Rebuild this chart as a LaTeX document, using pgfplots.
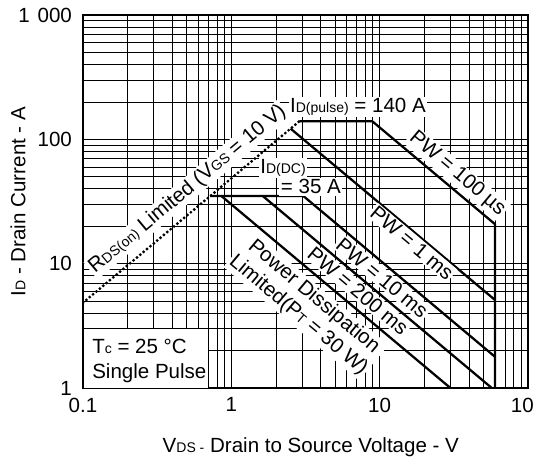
\documentclass[border=0pt]{standalone}
\usepackage{fontspec}
\setmainfont{Liberation Sans}
\usepackage{pgfplots}
\pgfplotsset{compat=1.18}
\newcommand{\sub}[1]{{\fontsize{10.5}{11}\selectfont #1}}
\newcommand{\chartfont}{\fontsize{15.4}{18}\selectfont}
\tikzset{lbl/.style={fill=white, inner sep=1.2pt, font=\chartfont}}
\begin{document}
\chartfont
\begin{tikzpicture}
\begin{axis}[
  xmode=log, ymode=log,
  width=333.75pt, height=279.75pt, scale only axis,
  xmin=0.1, xmax=100, ymin=1, ymax=1000,
  xtick={0.1,1,10,100}, xticklabels={0.1,1,10,100},
  ytick={1,10,100,1000}, yticklabels={1,10,100,{1\hspace{0.38em}000}},
  minor xtick={0.2,0.3,0.4,0.5,0.6,0.7,0.8,0.9,2,3,4,5,6,7,8,9,20,30,40,50,60,70,80,90},
  minor ytick={2,3,4,5,6,7,8,9,20,30,40,50,60,70,80,90,200,300,400,500,600,700,800,900},
  grid=both,
  major grid style={black, line width=0.6pt},
  minor grid style={black, line width=0.6pt},
  major tick length=0pt, minor tick length=0pt,
  axis line style={line width=1.2pt},
  tick label style={font=\chartfont},
  xticklabel style={yshift=-2pt},
  yticklabel style={xshift=-3pt},
  label style={font=\chartfont},
  xlabel={V\sub{DS -} Drain to Source Voltage - V},
  ylabel={I\sub{D} - Drain Current - A},
  every axis x label/.style={at={(axis description cs:0.512,-0.158)},anchor=center},
  every axis y label/.style={at={(axis description cs:-0.146,0.5)},rotate=90,anchor=center},
]
% RDS(on) limit
\addplot[black, line width=2.4pt, dash pattern=on 0pt off 3.3pt, line cap=round] coordinates {(0.1,4.85) (2.88,140)};
% PW = 100 us, then VDSS limit
\addplot[black, line width=1.7pt] coordinates {(2.88,140) (8.9,140) (60,20.75) (60,1)};
% PW = 1 ms
\addplot[black, line width=1.7pt] coordinates {(2.51,121.9) (60,5.1)};
% ID(DC) = 35 A and PW = 10 ms
\addplot[black, line width=1.7pt] coordinates {(0.72,35) (3.06,35) (60,1.78)};
% PW = 200 ms
\addplot[black, line width=1.7pt] coordinates {(1.63,35) (57,1)};
% PT = 30 W
\addplot[black, line width=1.7pt] coordinates {(0.857,35) (30,1)};

\node[lbl, rotate=40] at (axis cs:0.507,39.5) {R\sub{DS(on)} Limited (V\sub{GS} = 10 V)};
\node[lbl] at (axis cs:7.14,182) {I\sub{D(pulse)} = 140 A};
\node[lbl] at (axis cs:2.23,58.9) {I\sub{D(DC)}};
\node[lbl] at (axis cs:3.44,41.5) {= 35 A};
\node[lbl, rotate=-40] at (axis cs:33.3,52.7) {PW = 100 µs};
\node[lbl, rotate=-40] at (axis cs:16.5,14.7) {PW = 1 ms};
\node[lbl, rotate=-40] at (axis cs:10.4,7.67) {PW = 10 ms};
\node[lbl, rotate=-40] at (axis cs:7.15,6.03) {PW = 200 ms};
\node[lbl, rotate=-40, align=center] at (axis cs:3.19,4.57) {Power Dissipation\\Limited(P\sub{T} = 30 W)};
\path[fill=white, draw=black, line width=0.6pt] (axis cs:0.1,1) rectangle (axis cs:0.7,3);
\node[anchor=base west, inner sep=0pt] at (axis cs:0.115,1.91) {T\sub{c} = 25 °C};
\node[anchor=base west, inner sep=0pt] at (axis cs:0.115,1.203) {Single Pulse};
\end{axis}
\pgfresetboundingbox
\path[use as bounding box] (-62.25pt,-52.5pt) rectangle (338.25pt,291pt);
\end{tikzpicture}
\end{document}
